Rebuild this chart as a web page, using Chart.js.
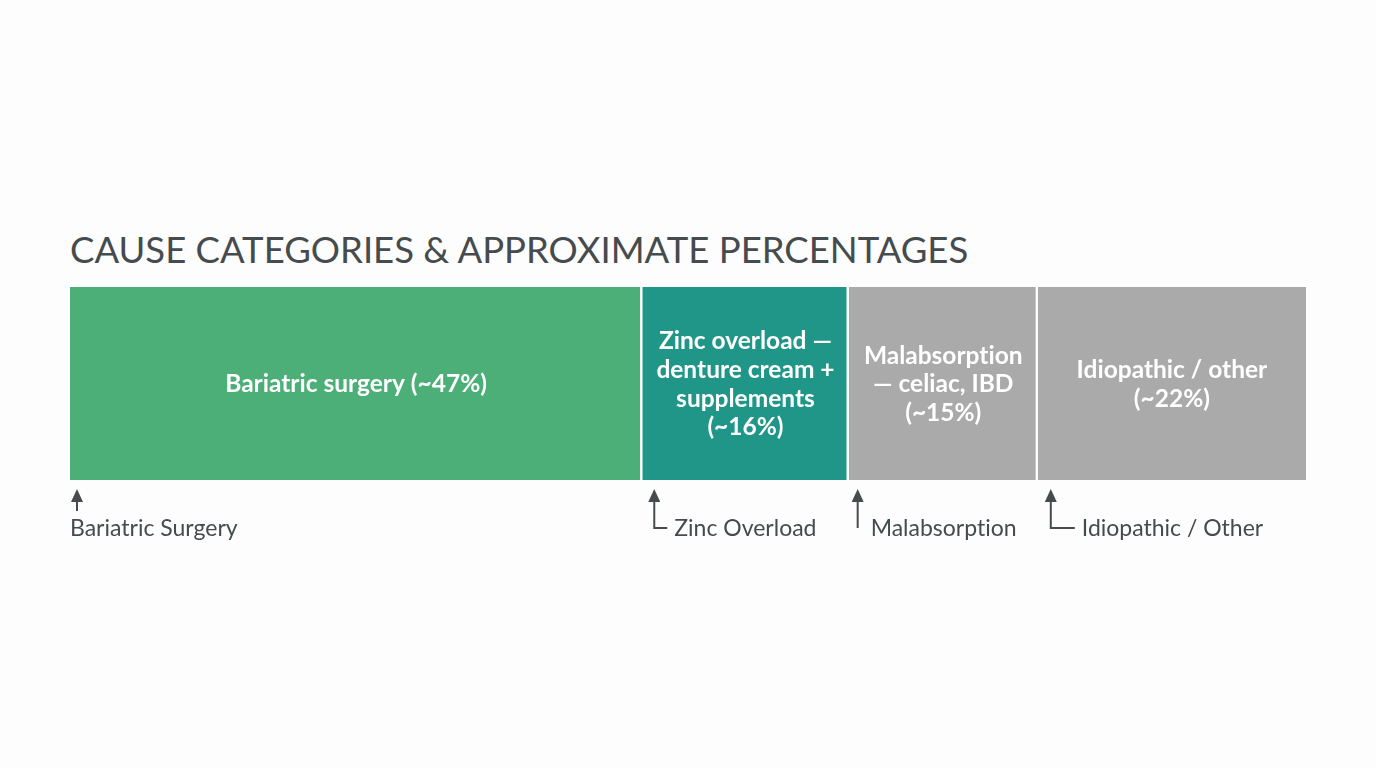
<!DOCTYPE html>
<html>
<head>
<meta charset="utf-8">
<script src="https://cdn.jsdelivr.net/npm/chart.js@4.4.1/dist/chart.umd.min.js"></script>
<style>
  html, body { margin: 0; padding: 0; background: #fdfdfd; }
  #wrap { position: relative; width: 1376px; height: 768px; }
  #title {
    position: absolute; left: 70px; top: 231px; margin: 0;
    font-family: Lato, sans-serif; font-weight: 400; font-size: 36.5px; line-height: 1;
    color: #464b4e; white-space: nowrap;
  }
  canvas { position: absolute; left: 0; top: 0; }
</style>
</head>
<body>
<div id="wrap">
  <h1 id="title">CAUSE CATEGORIES &amp; APPROXIMATE PERCENTAGES</h1>
  <canvas id="chart" width="1376" height="768"></canvas>
</div>
<script>
const categories = ['Bariatric Surgery', 'Zinc Overload', 'Malabsorption', 'Idiopathic / Other'];
// segment widths as drawn (labels carry the rounded figures)
const shares = [46.3, 16.7, 15.3, 21.7];
const barLabels = [
  ['Bariatric surgery (~47%)'],
  ['Zinc overload —', 'denture cream +', 'supplements', '(~16%)'],
  ['Malabsorption', '— celiac, IBD', '(~15%)'],
  ['Idiopathic / other', '(~22%)'],
];
const colors = ['#4caf78', '#209688', '#aaaaaa', '#aaaaaa'];
const arrowOffset = [7, 12, 9, 13];
const hookLen = [0, 13, 0, 24];

const ink = '#464b4e';

// text inside the bar segments + the arrows/labels underneath
const annotate = {
  id: 'annotate',
  afterDatasetsDraw(chart) {
    const ctx = chart.ctx;
    ctx.save();
    ctx.textRendering = 'optimizeSpeed'; // no "ti" ligature
    categories.forEach((name, i) => {
      const bar = chart.getDatasetMeta(i).data[0];
      const { x, base, y, height } = bar.getProps(['x', 'base', 'y', 'height'], true);
      const left = Math.min(x, base);
      const right = Math.max(x, base);
      const bottom = y + height / 2;

      // label inside segment
      ctx.fillStyle = '#ffffff';
      ctx.font = 'bold 24.5px Lato, sans-serif';
      ctx.textAlign = 'center';
      ctx.textBaseline = 'middle';
      const lines = barLabels[i];
      const lh = 28.7;
      const cx = (left + right) / 2;
      lines.forEach((ln, k) => {
        ctx.fillText(ln, cx, y + 1 + (k - (lines.length - 1) / 2) * lh);
      });

      // arrow under the segment start
      const ax = left + arrowOffset[i];
      const top = bottom + 9;
      const end = i === 0 ? bottom + 31 : bottom + 48;
      ctx.strokeStyle = ink;
      ctx.fillStyle = ink;
      ctx.lineWidth = 2;
      ctx.beginPath();
      ctx.moveTo(ax, top + 10);
      ctx.lineTo(ax, end);
      if (hookLen[i]) ctx.lineTo(ax + hookLen[i], end);
      ctx.stroke();
      ctx.beginPath();
      ctx.moveTo(ax, top);
      ctx.lineTo(ax - 6, top + 13);
      ctx.lineTo(ax + 6, top + 13);
      ctx.closePath();
      ctx.fill();

      ctx.font = '23px Lato, sans-serif';
      ctx.textAlign = 'left';
      ctx.textBaseline = 'middle';
      if (i === 0) {
        ctx.fillText(name, left, bottom + 49);
      } else if (hookLen[i]) {
        ctx.fillText(name, ax + hookLen[i] + 7, bottom + 49);
      } else {
        ctx.fillText(name, ax + 13, bottom + 49);
      }
    });
    ctx.restore();
  }
};

new Chart(document.getElementById('chart'), {
  type: 'bar',
  data: {
    labels: ['Causes'],
    datasets: categories.map((name, i) => ({
      label: name,
      data: [shares[i]],
      backgroundColor: colors[i],
      borderColor: '#fdfdfd',
      borderWidth: { top: 0, bottom: 0, left: 0, right: i < categories.length - 1 ? 2.5 : 0 },
      borderSkipped: false,
      categoryPercentage: 1,
      barPercentage: 1,
    })),
  },
  options: {
    indexAxis: 'y',
    responsive: false,
    animation: false,
    layout: { padding: { left: 70, right: 70, top: 287, bottom: 288 } },
    scales: {
      x: { stacked: true, min: 0, max: 100, display: false },
      y: { stacked: true, display: false },
    },
    plugins: {
      legend: { display: false },
      tooltip: { enabled: false },
    },
  },
  plugins: [annotate],
});
</script>
</body>
</html>
